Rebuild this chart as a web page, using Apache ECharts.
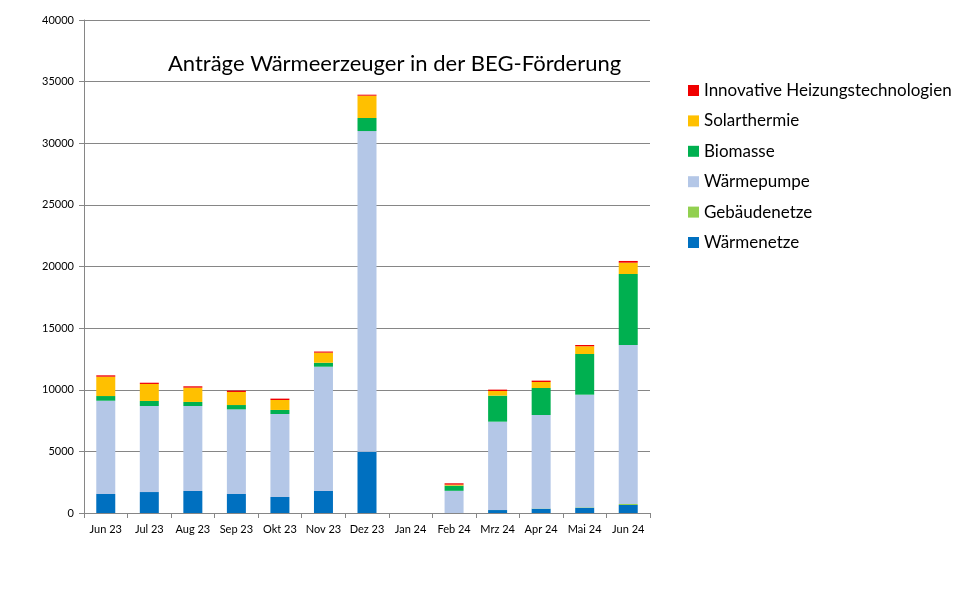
<!DOCTYPE html>
<html>
<head>
<meta charset="utf-8">
<script src="https://cdn.jsdelivr.net/npm/echarts@6/dist/echarts.min.js"></script>
<style>html,body{margin:0;padding:0;background:#fff;}#c{width:968px;height:596px;}</style>
</head>
<body>
<div id="c"></div>
<script>
const categories = ['Jun 23','Jul 23','Aug 23','Sep 23','Okt 23','Nov 23','Dez 23','Jan 24','Feb 24','Mrz 24','Apr 24','Mai 24','Jun 24'];
const waermenetze   = [1550, 1700, 1790, 1550, 1300, 1790, 4960, 0, 0, 240, 350, 430, 650];
const gebaeudenetze = [0, 0, 0, 0, 0, 0, 0, 0, 0, 10, 20, 30, 80];
const waermepumpe   = [7560, 6980, 6890, 6860, 6730, 10080, 26030, 0, 1800, 7160, 7580, 9140, 12900];
const biomasse      = [380, 410, 330, 350, 330, 320, 1060, 0, 420, 2110, 2190, 3300, 5760];
const solarthermie  = [1570, 1380, 1160, 1060, 810, 820, 1810, 0, 80, 380, 490, 630, 920];
const innovative    = [110, 100, 110, 110, 110, 90, 80, 0, 110, 110, 110, 100, 140];
const yTicks = {min: 0, max: 40000, interval: 5000};

const FONT = 'Lato, "Open Sans", sans-serif';
const seriesDefs = [
  ['Wärmenetze', waermenetze, '#0070C0'],
  ['Gebäudenetze', gebaeudenetze, '#92D050'],
  ['Wärmepumpe', waermepumpe, '#B4C7E7'],
  ['Biomasse', biomasse, '#00B050'],
  ['Solarthermie', solarthermie, '#FFC000'],
  ['Innovative Heizungstechnologien', innovative, '#F00000']
];
const chart = echarts.init(document.getElementById('c'), null, {renderer: 'canvas'});
chart.setOption({
  animation: false,
  backgroundColor: '#fff',
  title: {
    text: 'Anträge Wärmeerzeuger in der BEG-Förderung',
    left: 163, top: 48,
    textStyle: {fontFamily: FONT, fontSize: 22, fontWeight: 'normal', color: '#000'}
  },
  legend: {
    orient: 'vertical', left: 683, top: 77,
    itemWidth: 11, itemHeight: 11, itemGap: 13.4, icon: 'rect',
    data: ['Innovative Heizungstechnologien','Solarthermie','Biomasse','Wärmepumpe','Gebäudenetze','Wärmenetze'],
    textStyle: {fontFamily: FONT, fontSize: 17, color: '#000', lineHeight: 17}
  },
  grid: {left: 84, right: 318, top: 20, bottom: 83, containLabel: false},
  xAxis: {
    type: 'category', data: categories,
    axisLine: {lineStyle: {color: '#868686', width: 1}},
    axisTick: {show: true, length: 5, lineStyle: {color: '#868686'}},
    axisLabel: {fontFamily: FONT, fontSize: 11, color: '#000', margin: 11, interval: 0}
  },
  yAxis: {
    type: 'value', min: yTicks.min, max: yTicks.max, interval: yTicks.interval,
    axisLine: {show: true, lineStyle: {color: '#868686', width: 1}},
    axisTick: {show: true, length: 5, lineStyle: {color: '#868686'}},
    splitLine: {lineStyle: {color: '#868686', width: 1}},
    axisLabel: {fontFamily: FONT, fontSize: 11, color: '#000', margin: 10, formatter: v => String(v)}
  },
  series: seriesDefs.map(([name, data, color]) => ({
    name, type: 'bar', stack: 'total', data, barWidth: 19,
    itemStyle: {color}
  }))
});
</script>
</body>
</html>
